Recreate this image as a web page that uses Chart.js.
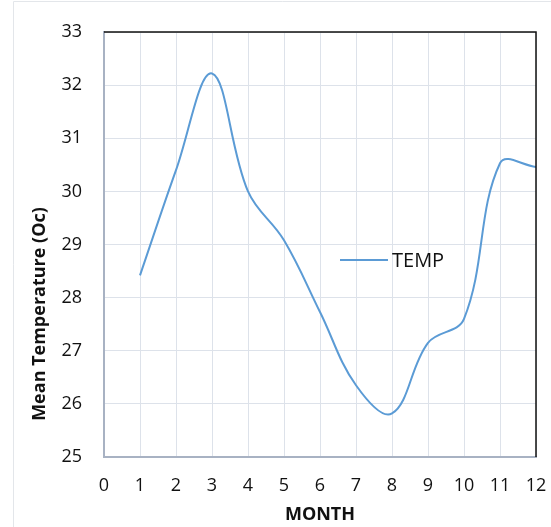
<!DOCTYPE html>
<html>
<head>
<meta charset="utf-8">
<script src="https://cdn.jsdelivr.net/npm/chart.js@4"></script>
<style>
html,body{margin:0;padding:0;background:#fff;}
#wrap{width:551px;height:527px;position:relative;}
</style>
</head>
<body>
<div id="wrap"><canvas id="c" width="551" height="527"></canvas></div>
<script>
const months = [1, 2, 3, 4, 5, 6, 7, 8, 9, 10, 11, 12];
const temps = [28.42, 30.4, 32.22, 30.0, 29.08, 27.73, 26.35, 25.82, 27.15, 27.6, 30.53, 30.46];
const xTicks = [0, 1, 2, 3, 4, 5, 6, 7, 8, 9, 10, 11, 12];
const yTicks = [25, 26, 27, 28, 29, 30, 31, 32, 33];
const seriesName = 'TEMP';
const xTitle = 'MONTH';
const yTitle = 'Mean Temperature (Oc)';

const FONT = "'Open Sans', sans-serif";
const LINE = '#5b9bd5';
const GRID = '#dde2ea';
const AXIS = '#a8b2c3';

const decor = {
  id: 'decor',
  beforeDraw(chart) {
    const ctx = chart.ctx;
    ctx.save();
    ctx.strokeStyle = '#e3e6ea';
    ctx.lineWidth = 1;
    ctx.beginPath();
    ctx.moveTo(13.5, 527); ctx.lineTo(13.5, 1.5); ctx.lineTo(551, 1.5);
    ctx.stroke();
    ctx.restore();
  },
  afterDraw(chart) {
    const ctx = chart.ctx;
    const a = chart.chartArea;
    ctx.save();
    ctx.strokeStyle = '#111';
    ctx.lineWidth = 1.5;
    ctx.beginPath();
    ctx.moveTo(a.left, a.top); ctx.lineTo(a.right, a.top); ctx.lineTo(a.right, a.bottom);
    ctx.stroke();
    const lx = 340, ly = 260;
    ctx.strokeStyle = LINE;
    ctx.lineWidth = 2;
    ctx.beginPath();
    ctx.moveTo(lx, ly); ctx.lineTo(lx + 48, ly);
    ctx.stroke();
    ctx.fillStyle = '#111';
    ctx.font = "20px " + FONT;
    ctx.textBaseline = 'middle';
    ctx.textAlign = 'left';
    ctx.fillText(chart.data.datasets[0].label, lx + 52, ly + 1);
    ctx.font = "bold 18px " + FONT;
    ctx.textAlign = 'center';
    ctx.fillText(xTitle, (a.left + a.right) / 2, 515);
    ctx.translate(40, 314);
    ctx.rotate(-Math.PI / 2);
    ctx.fillText(yTitle, 0, 0);
    ctx.restore();
  }
};

new Chart(document.getElementById('c'), {
  type: 'line',
  data: {
    datasets: [{
      label: seriesName,
      data: months.map((m, i) => ({ x: m, y: temps[i] })),
      borderColor: LINE,
      borderWidth: 2,
      pointRadius: 0,
      tension: 0.38,
      fill: false
    }]
  },
  options: {
    responsive: false,
    animation: false,
    layout: { padding: { top: 32, right: 15, left: 0, bottom: 0 } },
    plugins: { legend: { display: false }, tooltip: { enabled: false } },
    scales: {
      x: {
        type: 'linear',
        min: 0, max: 12,
        afterBuildTicks(s) { s.ticks = xTicks.map(v => ({ value: v })); },
        afterFit(s) { s.height = 70; s.paddingLeft = 0; s.paddingRight = 0; },
        ticks: { color: '#111', font: { family: FONT, size: 18 }, padding: 18, maxRotation: 0, autoSkip: false },
        grid: { color: GRID, lineWidth: 1, drawTicks: false },
        border: { color: AXIS, width: 2 }
      },
      y: {
        min: 25, max: 33,
        afterBuildTicks(s) { s.ticks = yTicks.map(v => ({ value: v })); },
        afterFit(s) { s.width = 104; s.paddingTop = 0; s.paddingBottom = 0; },
        ticks: { color: '#111', font: { family: FONT, size: 18 }, padding: 22 },
        grid: { color: GRID, lineWidth: 1, drawTicks: false },
        border: { color: AXIS, width: 2 }
      }
    }
  },
  plugins: [decor]
});
</script>
</body>
</html>
